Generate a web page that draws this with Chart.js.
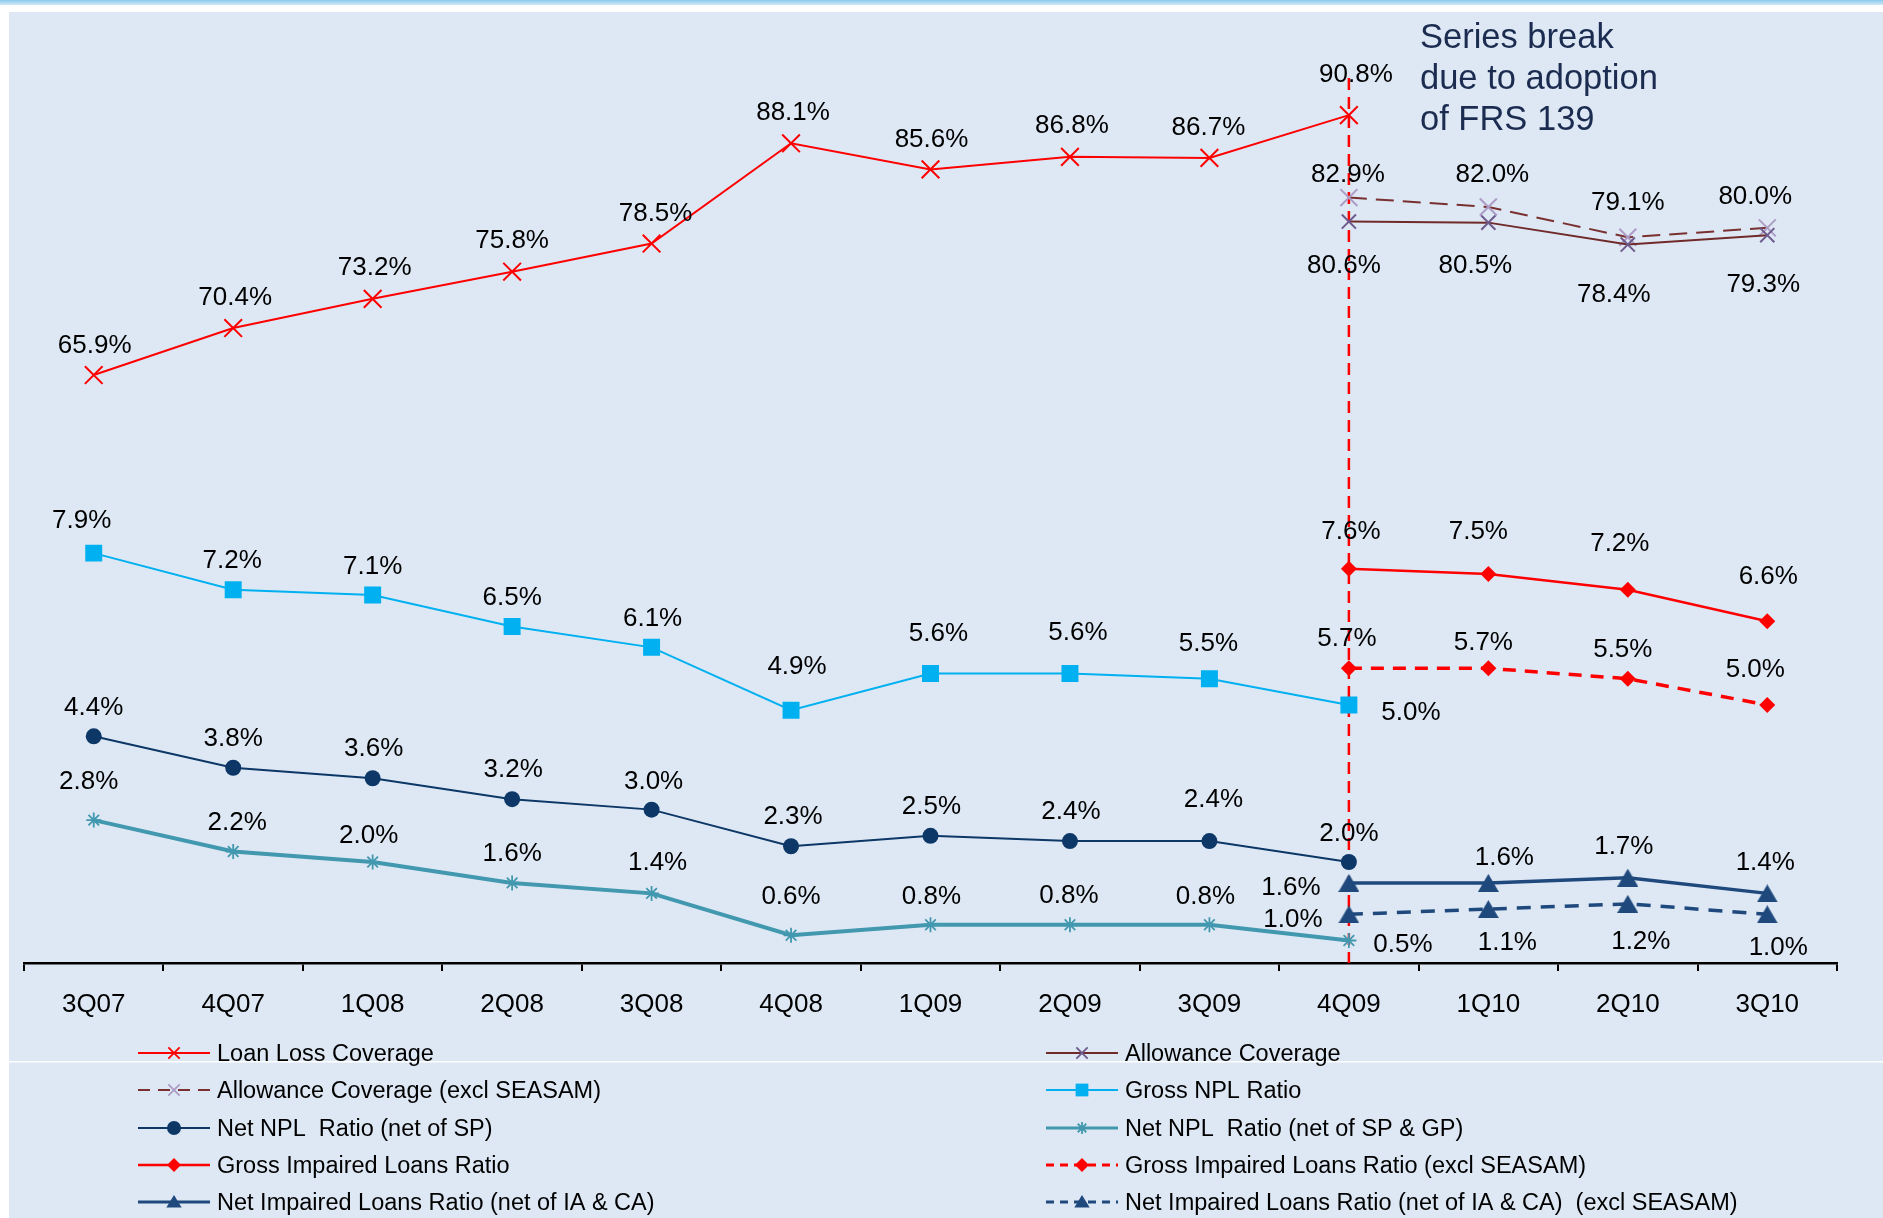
<!DOCTYPE html>
<html><head><meta charset="utf-8">
<script src="https://cdn.jsdelivr.net/npm/chart.js@4.4.1/dist/chart.umd.min.js"></script>
<style>html,body{margin:0;padding:0;background:#fff;overflow:hidden}</style>
</head><body>
<canvas id="c" width="1883" height="1218"></canvas>
<script>
// ---------- data ----------
const categories = ['3Q07','4Q07','1Q08','2Q08','3Q08','4Q08','1Q09','2Q09','3Q09','4Q09','1Q10','2Q10','3Q10'];
const loanLossCoverage      = [65.9,70.4,73.2,75.8,78.5,88.1,85.6,86.8,86.7,90.8,null,null,null];
const allowanceCoverage     = [null,null,null,null,null,null,null,null,null,80.6,80.5,78.4,79.3];
const allowanceCoverageExcl = [null,null,null,null,null,null,null,null,null,82.9,82.0,79.1,80.0];
const grossNplRatio         = [7.9,7.2,7.1,6.5,6.1,4.9,5.6,5.6,5.5,5.0,null,null,null];
const netNplRatioSp         = [4.4,3.8,3.6,3.2,3.0,2.3,2.5,2.4,2.4,2.0,null,null,null];
const netNplRatioSpGp       = [2.8,2.2,2.0,1.6,1.4,0.6,0.8,0.8,0.8,0.5,null,null,null];
const grossImpaired         = [null,null,null,null,null,null,null,null,null,7.6,7.5,7.2,6.6];
const grossImpairedExcl     = [null,null,null,null,null,null,null,null,null,5.7,5.7,5.5,5.0];
const netImpaired           = [null,null,null,null,null,null,null,null,null,1.6,1.6,1.7,1.4];
const netImpairedExcl       = [null,null,null,null,null,null,null,null,null,1.0,1.1,1.2,1.0];
const seriesNames = [
  'Loan Loss Coverage','Allowance Coverage',
  'Allowance Coverage (excl SEASAM)','Gross NPL Ratio',
  'Net NPL  Ratio (net of SP)','Net NPL  Ratio (net of SP & GP)',
  'Gross Impaired Loans Ratio','Gross Impaired Loans Ratio (excl SEASAM)',
  'Net Impaired Loans Ratio (net of IA & CA)','Net Impaired Loans Ratio (net of IA & CA)  (excl SEASAM)'
];
const noteLines = ['Series break','due to adoption','of FRS 139'];
const breakIndex = 9;

// ---------- label offsets (layout only, px) ----------
const N = null;
const offLoan   = [[1,-29],[2,-30],[2,-31],[0,-31],[4,-30],[2,-30],[1,-30],[2,-31],[-1,-30],[7,-40],N,N,N];
const offAllow  = [N,N,N,N,N,N,N,N,N,[-5,44],[-13,43],[-14,50],[-4,50]];
const offAllowX = [N,N,N,N,N,N,N,N,N,[-1,-23],[4,-32],[0,-34],[-12,-31]];
const offGNpl   = [[-12,-32],[-1,-29],[0,-28],[0,-29],[1,-29],[6,-43],[8,-40],[8,-41],[-1,-35],[62,8],N,N,N];
const offNSp    = [[0,-29],[0,-29],[1,-29],[1,-29],[2,-28],[2,-29],[1,-29],[1,-29],[4,-41],[0,-28],N,N,N];
const offNSpGp  = [[-5,-38],[4,-29],[-4,-26],[0,-29],[6,-31],[0,-38],[1,-28],[-1,-29],[-4,-28],[54,4],N,N,N];
const offGImp   = [N,N,N,N,N,N,N,N,N,[2,-37],[-10,-42],[-8,-46],[1,-44]];
const offGImpX  = [N,N,N,N,N,N,N,N,N,[-2,-29],[-5,-25],[-5,-29],[-12,-35]];
const offNImp   = [N,N,N,N,N,N,N,N,N,[-58,5],[16,-25],[-4,-31],[-2,-31]];
const offNImpX  = [N,N,N,N,N,N,N,N,N,[-56,6],[19,34],[13,38],[11,34]];

// ---------- marker images ----------
function triangleImg(w,h,color){
  const c=document.createElement('canvas'); c.width=w; c.height=h;
  const g=c.getContext('2d'); g.fillStyle=color; g.beginPath();
  g.moveTo(w/2,0); g.lineTo(w,h); g.lineTo(0,h); g.closePath(); g.fill(); return c;
}
const NAVY2='#1f497d';
const triBig = triangleImg(21,18,NAVY2);

Chart.defaults.font.family = '"Liberation Sans", Arial, sans-serif';
Chart.defaults.color = '#000';

const ds = [
  {label:seriesNames[0], data:loanLossCoverage, yAxisID:'yC', borderColor:'#ff0000', borderWidth:2,
   pointStyle:'crossRot', pointRadius:12.5, pointBorderColor:'#ff0000', pointBackgroundColor:'#ff0000', pointBorderWidth:2, offs:offLoan, lg:{r:8}},
  {label:seriesNames[1], data:allowanceCoverage, yAxisID:'yC', borderColor:'#702a2a', borderWidth:2,
   pointStyle:'crossRot', pointRadius:10, pointBorderColor:'#6e5a8c', pointBackgroundColor:'#6e5a8c', pointBorderWidth:2, offs:offAllow, lg:{r:8}},
  {label:seriesNames[2], data:allowanceCoverageExcl, yAxisID:'yC', borderColor:'#7a3030', borderWidth:2, borderDash:[18,9],
   pointStyle:'crossRot', pointRadius:12, pointBorderColor:'#ac9cc6', pointBackgroundColor:'#ac9cc6', pointBorderWidth:2, offs:offAllowX, lg:{r:8, dash:[12,8]}},
  {label:seriesNames[3], data:grossNplRatio, yAxisID:'yN', borderColor:'#00b0f0', borderWidth:2,
   pointStyle:'rect', pointRadius:12, pointBorderColor:'#00b0f0', pointBackgroundColor:'#00b0f0', pointBorderWidth:0, offs:offGNpl, lg:{r:9}},
  {label:seriesNames[4], data:netNplRatioSp, yAxisID:'yN', borderColor:'#0c3766', borderWidth:2,
   pointStyle:'circle', pointRadius:8, pointBorderColor:'#0c3766', pointBackgroundColor:'#0c3766', pointBorderWidth:0, offs:offNSp, lg:{r:7}},
  {label:seriesNames[5], data:netNplRatioSpGp, yAxisID:'yN', borderColor:'#4298ae', borderWidth:4,
   pointStyle:'star', pointRadius:7.5, pointBorderColor:'#4298ae', pointBackgroundColor:'#4298ae', pointBorderWidth:1.8, offs:offNSpGp, lg:{r:6}},
  {label:seriesNames[6], data:grossImpaired, yAxisID:'yN', borderColor:'#ff0000', borderWidth:2.5,
   pointStyle:'rectRot', pointRadius:8, pointBorderColor:'#ff0000', pointBackgroundColor:'#ff0000', pointBorderWidth:0, offs:offGImp, lg:{r:7}},
  {label:seriesNames[7], data:grossImpairedExcl, yAxisID:'yN', borderColor:'#ff0000', borderWidth:3.5, borderDash:[13,9],
   pointStyle:'rectRot', pointRadius:8, pointBorderColor:'#ff0000', pointBackgroundColor:'#ff0000', pointBorderWidth:0, offs:offGImpX, lg:{r:7, dash:[8,6]}},
  {label:seriesNames[8], data:netImpaired, yAxisID:'yN', borderColor:NAVY2, borderWidth:3.5,
   pointStyle:triBig, pointRadius:10, pointBorderWidth:0, offs:offNImp, lg:{r:7}},
  {label:seriesNames[9], data:netImpairedExcl, yAxisID:'yN', borderColor:NAVY2, borderWidth:3.5, borderDash:[14,10],
   pointStyle:triBig, pointRadius:10, pointBorderWidth:0, offs:offNImpX, lg:{r:7, dash:[8,6]}}
];

function drawMarker(ctx, d, x, y, r){
  ctx.save(); ctx.setLineDash([]);
  ctx.fillStyle = d.pointBackgroundColor || d.borderColor;
  ctx.strokeStyle = d.pointBorderColor || d.borderColor;
  ctx.lineWidth = 1.8;
  const s = d.pointStyle; ctx.beginPath();
  if (s==='crossRot'){ const o=r*Math.SQRT1_2; ctx.moveTo(x-o,y-o);ctx.lineTo(x+o,y+o);ctx.moveTo(x-o,y+o);ctx.lineTo(x+o,y-o);ctx.stroke(); }
  else if (s==='rect'){ const o=r*Math.SQRT1_2; ctx.fillRect(x-o,y-o,2*o,2*o); }
  else if (s==='circle'){ ctx.arc(x,y,r,0,Math.PI*2); ctx.fill(); }
  else if (s==='star'){ const o=r*Math.SQRT1_2; ctx.moveTo(x-r,y);ctx.lineTo(x+r,y);ctx.moveTo(x,y-r);ctx.lineTo(x,y+r);
    ctx.moveTo(x-o,y-o);ctx.lineTo(x+o,y+o);ctx.moveTo(x-o,y+o);ctx.lineTo(x+o,y-o);ctx.stroke(); }
  else if (s==='rectRot'){ ctx.moveTo(x,y-r);ctx.lineTo(x+r,y);ctx.lineTo(x,y+r);ctx.lineTo(x-r,y);ctx.closePath();ctx.fill(); }
  else { ctx.fillStyle=NAVY2; ctx.moveTo(x,y-r);ctx.lineTo(x+r*1.1,y+r*0.8);ctx.lineTo(x-r*1.1,y+r*0.8);ctx.closePath();ctx.fill(); }
  ctx.restore();
}

const decor = {
  id:'decor',
  beforeDraw(chart){
    const ctx=chart.ctx, W=chart.width, H=chart.height;
    ctx.save();
    ctx.fillStyle='#fff'; ctx.fillRect(0,0,W,H);
    const g=ctx.createLinearGradient(0,0,0,5); g.addColorStop(0,'#8ccbeb'); g.addColorStop(1,'#cfe9f7');
    ctx.fillStyle=g; ctx.fillRect(0,0,W,5);
    ctx.fillStyle='#dde8f4'; ctx.fillRect(9,12,W-9,H-12);
    ctx.fillStyle='#ffffff'; ctx.fillRect(9,1061,W-9,1.5);
    ctx.restore();
  },
  beforeDatasetsDraw(chart){
    const ctx=chart.ctx, x=chart.scales.x.getPixelForValue(breakIndex);
    ctx.save(); ctx.strokeStyle='#ff0000'; ctx.lineWidth=2.5; ctx.setLineDash([12,7]);
    ctx.beginPath(); ctx.moveTo(x,78); ctx.lineTo(x,chart.chartArea.bottom); ctx.stroke(); ctx.restore();
  },
  afterDatasetsDraw(chart){
    const ctx=chart.ctx;
    ctx.save();
    ctx.font='26px "Liberation Sans", Arial, sans-serif'; ctx.fillStyle='#000';
    ctx.textAlign='center'; ctx.textBaseline='middle';
    chart.data.datasets.forEach((d,di)=>{
      const meta=chart.getDatasetMeta(di);
      d.data.forEach((v,i)=>{
        if(v===null) return;
        const p=meta.data[i], o=d.offs[i]||[0,-30];
        ctx.fillText(v.toFixed(1)+'%', p.x+o[0], p.y+o[1]);
      });
    });
    // note
    ctx.font='34.5px "Liberation Sans", Arial, sans-serif'; ctx.fillStyle='#1b2c50';
    ctx.textAlign='left'; ctx.textBaseline='alphabetic';
    noteLines.forEach((t,i)=>ctx.fillText(t,1420,48+i*41));
    // legend
    const rows=[1053,1090,1128,1165,1202], cols=[138,1046];
    ctx.font='23.5px "Liberation Sans", Arial, sans-serif'; ctx.fillStyle='#000'; ctx.textBaseline='middle';
    chart.data.datasets.forEach((d,i)=>{
      const x0=cols[i%2], y=rows[Math.floor(i/2)];
      ctx.save(); ctx.strokeStyle=d.borderColor; ctx.lineWidth=Math.min(d.borderWidth,3);
      ctx.setLineDash(d.lg.dash||[]); ctx.beginPath(); ctx.moveTo(x0,y); ctx.lineTo(x0+72,y); ctx.stroke(); ctx.restore();
      drawMarker(ctx,d,x0+36,y,d.lg.r);
      ctx.fillStyle='#000'; ctx.fillText(d.label,x0+79,y+2);
    });
    ctx.restore();
  }
};

new Chart(document.getElementById('c'),{
  type:'line',
  data:{labels:categories, datasets:ds},
  options:{
    responsive:false, devicePixelRatio:1, animation:false, events:[],
    layout:{padding:{left:24,right:46,top:12,bottom:0}},
    plugins:{legend:{display:false}, tooltip:{enabled:false}},
    elements:{line:{tension:0, fill:false}},
    scales:{
      x:{type:'category', offset:true,
         grid:{offset:true, drawOnChartArea:false, drawTicks:true, tickLength:8, color:'#000', lineWidth:2},
         border:{display:true, color:'#000', width:2.5},
         ticks:{color:'#000', font:{size:26}, padding:18, maxRotation:0, autoSkip:false},
         afterFit(s){ s.height=255; }},
      yN:{display:false, min:0.07, max:18.19},
      yC:{display:false, min:9.57, max:100.44}
    }
  },
  plugins:[decor]
});
</script>
</body></html>
